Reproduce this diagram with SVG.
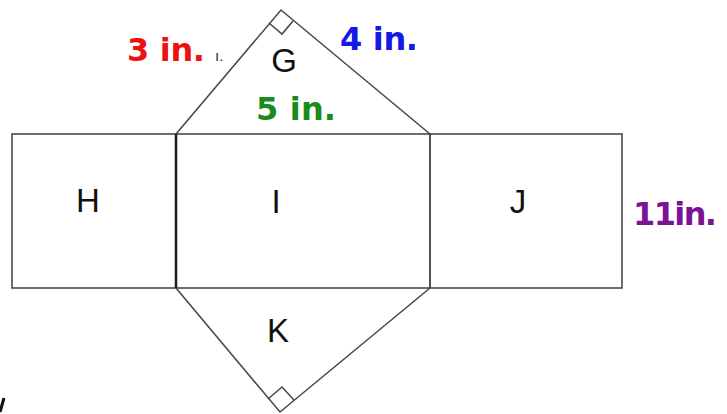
<svg xmlns="http://www.w3.org/2000/svg" width="727" height="414" viewBox="0 0 727 414">
<style>
.face{fill:none;stroke:#4a4a4a;stroke-width:1.6}
.lbl{font-family:"Liberation Sans",Arial,sans-serif;font-size:33px;fill:#111;text-anchor:middle}
.dim{font-family:"DejaVu Sans","Liberation Sans",sans-serif;font-weight:bold;font-size:32px}
</style>
<rect width="727" height="414" fill="#fff"/>
<g id="H"><rect class="face" x="12" y="134" width="164" height="154"/><text class="lbl" x="88" y="212">H</text></g>
<g id="I"><rect class="face" x="176" y="134" width="254" height="154"/><text class="lbl" x="276" y="213">I</text></g>
<g id="J"><rect class="face" x="430" y="134" width="192" height="154"/><text class="lbl" x="518" y="213">J</text></g>
<g id="G"><polyline class="face" points="176,134 281,10 430,134"/><polyline class="face" points="269,23 282,34 293,21"/><text class="lbl" x="284" y="72">G</text></g>
<g id="K"><polyline class="face" points="176,288 280,412 430,288"/><polyline class="face" points="268,399 282,387 294,400"/><text class="lbl" x="278" y="342">K</text></g>
<line x1="176" y1="134" x2="176" y2="288" stroke="#222" stroke-width="2.6"/>
<g id="labels">
<text class="dim" x="127" y="61" fill="#ee1111" textLength="78">3 in.</text>
<text x="215" y="61" font-family="Liberation Sans,sans-serif" font-size="15" fill="#333">ı.</text>
<text class="dim" x="340" y="50" fill="#1717e6" textLength="78">4 in.</text>
<text class="dim" x="256" y="120" fill="#1a8a1a" textLength="80">5 in.</text>
<text class="dim" x="633" y="225" fill="#7b1394" textLength="84">11in.</text>
</g>
<path d="M4,398 L0,412" stroke="#111" stroke-width="3"/>
</svg>
